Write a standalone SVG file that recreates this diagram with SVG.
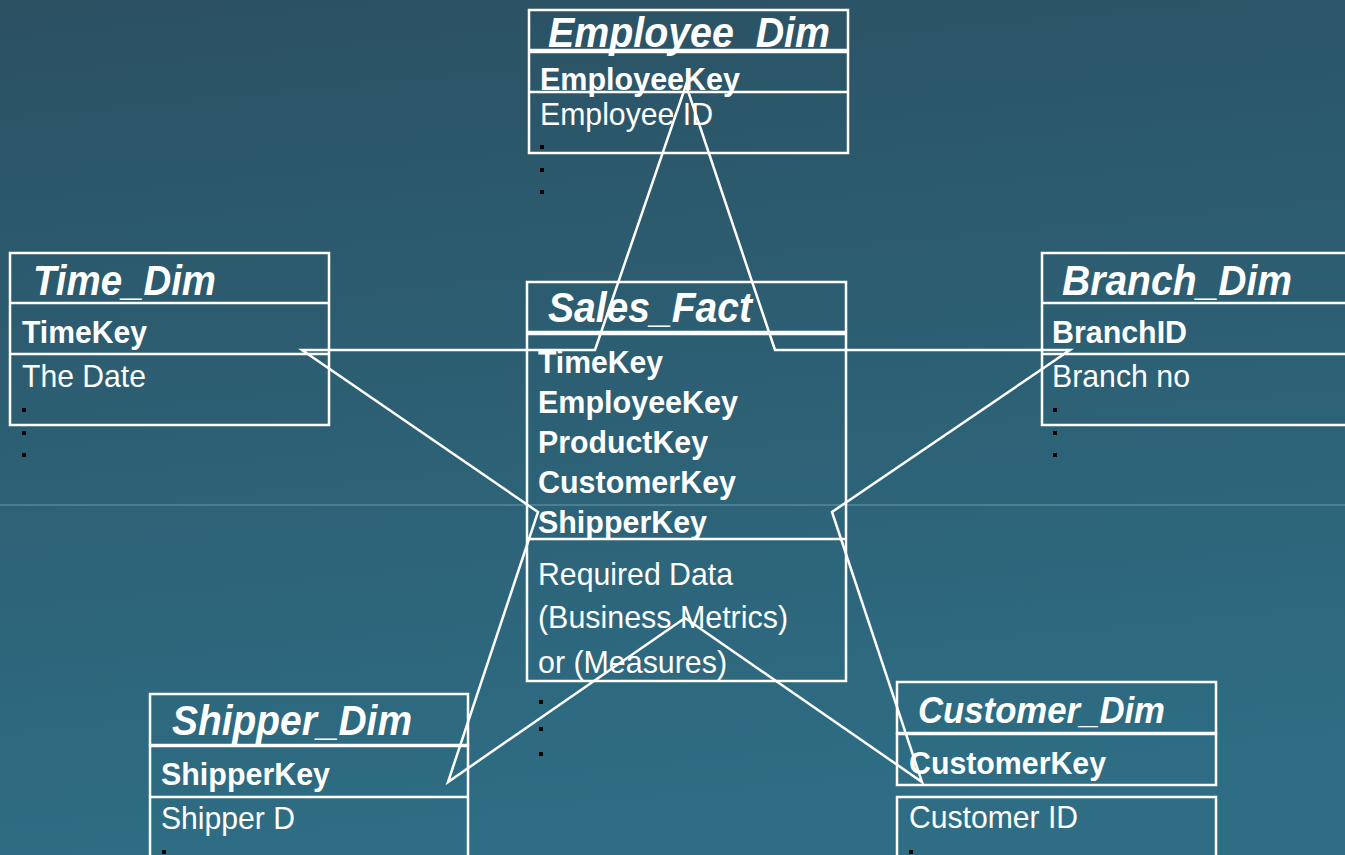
<svg xmlns="http://www.w3.org/2000/svg" width="1345" height="855" viewBox="0 0 1345 855">
<defs>
<linearGradient id="bg" x1="0" y1="0" x2="0.15" y2="1">
<stop offset="0" stop-color="#2b5163"/>
<stop offset="1" stop-color="#2e6d84"/>
</linearGradient>
<style>
.box{fill:none;stroke:#ffffff;stroke-width:2.5}
.title{font-family:"Liberation Sans",Arial,sans-serif;font-weight:bold;font-style:italic;font-size:43px;fill:#ffffff}
.key{font-family:"Liberation Sans",Arial,sans-serif;font-weight:bold;font-size:32px;fill:#ffffff}
.attr{font-family:"Liberation Sans",Arial,sans-serif;font-size:32px;fill:#ffffff}
.dot{fill:#000000}
.conn{fill:none;stroke:#ffffff;stroke-width:2.5;stroke-linejoin:miter}
</style>
</defs>
<rect x="0" y="0" width="1345" height="855" fill="url(#bg)"/>
<line x1="0" y1="505" x2="1345" y2="505" stroke="#7fa9b6" stroke-width="1.2" opacity="0.8"/>

<g id="employee_dim">
<rect class="box" x="529" y="10" width="319" height="40"/>
<rect class="box" x="529" y="52" width="319" height="101"/>
<line class="box" x1="529" y1="92" x2="848" y2="92"/>
<text class="title" x="548" y="47" textLength="282" lengthAdjust="spacingAndGlyphs">Employee_Dim</text>
<text class="key" x="540" y="90" textLength="200" lengthAdjust="spacingAndGlyphs">EmployeeKey</text>
<text class="attr" x="540" y="125" textLength="173" lengthAdjust="spacingAndGlyphs">Employee ID</text>
<rect class="dot" x="540" y="145" width="4" height="4"/>
<rect class="dot" x="540" y="168" width="4" height="4"/>
<rect class="dot" x="540" y="190" width="4" height="4"/>
</g>

<g id="time_dim">
<rect class="box" x="10" y="253" width="319" height="172"/>
<line class="box" x1="10" y1="303" x2="329" y2="303"/>
<line class="box" x1="10" y1="354" x2="329" y2="354"/>
<text class="title" x="33" y="295" textLength="183" lengthAdjust="spacingAndGlyphs">Time_Dim</text>
<text class="key" x="22" y="343" textLength="125" lengthAdjust="spacingAndGlyphs">TimeKey</text>
<text class="attr" x="22" y="387" textLength="124" lengthAdjust="spacingAndGlyphs">The Date</text>
<rect class="dot" x="22" y="408" width="4" height="4"/>
<rect class="dot" x="22" y="431" width="4" height="4"/>
<rect class="dot" x="22" y="453" width="4" height="4"/>
</g>

<g id="branch_dim">
<rect class="box" x="1042" y="253" width="320" height="172"/>
<line class="box" x1="1042" y1="303" x2="1345" y2="303"/>
<line class="box" x1="1042" y1="354" x2="1345" y2="354"/>
<text class="title" x="1062" y="295" textLength="230" lengthAdjust="spacingAndGlyphs">Branch_Dim</text>
<text class="key" x="1052" y="343" textLength="135" lengthAdjust="spacingAndGlyphs">BranchID</text>
<text class="attr" x="1052" y="387" textLength="138" lengthAdjust="spacingAndGlyphs">Branch no</text>
<rect class="dot" x="1053" y="408" width="4" height="4"/>
<rect class="dot" x="1053" y="431" width="4" height="4"/>
<rect class="dot" x="1053" y="453" width="4" height="4"/>
</g>

<g id="sales_fact">
<rect class="box" x="527" y="282" width="319" height="50"/>
<rect class="box" x="527" y="334" width="319" height="347"/>
<line class="box" x1="527" y1="539" x2="846" y2="539"/>
<text class="title" x="548" y="322" textLength="204" lengthAdjust="spacingAndGlyphs">Sales_Fact</text>
<text class="key" x="538" y="373" textLength="125" lengthAdjust="spacingAndGlyphs">TimeKey</text>
<text class="key" x="538" y="413" textLength="200" lengthAdjust="spacingAndGlyphs">EmployeeKey</text>
<text class="key" x="538" y="453" textLength="170" lengthAdjust="spacingAndGlyphs">ProductKey</text>
<text class="key" x="538" y="493" textLength="198" lengthAdjust="spacingAndGlyphs">CustomerKey</text>
<text class="key" x="538" y="533" textLength="169" lengthAdjust="spacingAndGlyphs">ShipperKey</text>
<text class="attr" x="538" y="585" textLength="195" lengthAdjust="spacingAndGlyphs">Required Data</text>
<text class="attr" x="538" y="628" textLength="250" lengthAdjust="spacingAndGlyphs">(Business Metrics)</text>
<text class="attr" x="538" y="673" textLength="189" lengthAdjust="spacingAndGlyphs">or (Measures)</text>
<rect class="dot" x="539" y="700" width="4" height="4"/>
<rect class="dot" x="539" y="727" width="4" height="4"/>
<rect class="dot" x="539" y="752" width="4" height="4"/>
</g>

<g id="shipper_dim">
<rect class="box" x="150" y="694" width="318" height="51"/>
<rect class="box" x="150" y="746" width="318" height="140"/>
<line class="box" x1="150" y1="797" x2="468" y2="797"/>
<text class="title" x="172" y="735" textLength="240" lengthAdjust="spacingAndGlyphs">Shipper_Dim</text>
<text class="key" x="161" y="785" textLength="169" lengthAdjust="spacingAndGlyphs">ShipperKey</text>
<text class="attr" x="161" y="829" textLength="134" lengthAdjust="spacingAndGlyphs">Shipper D</text>
<rect class="dot" x="162" y="850" width="4" height="4"/>
</g>

<g id="customer_dim">
<rect class="box" x="897" y="682" width="319" height="51"/>
<rect class="box" x="897" y="734" width="319" height="51"/>
<rect class="box" x="897" y="797" width="319" height="90"/>
<text class="title" x="918" y="723" font-size="37" style="font-size:37px" textLength="247" lengthAdjust="spacingAndGlyphs">Customer_Dim</text>
<text class="key" x="909" y="774" textLength="197" lengthAdjust="spacingAndGlyphs">CustomerKey</text>
<text class="attr" x="909" y="828" textLength="169" lengthAdjust="spacingAndGlyphs">Customer ID</text>
<rect class="dot" x="909" y="850" width="4" height="4"/>
</g>

<g id="connectors">
<polygon class="conn" points="686,85 775,350 1070,350 832,512 922,782 685,618 448,782 538,512 302,350 595,350"/>
</g>
</svg>
